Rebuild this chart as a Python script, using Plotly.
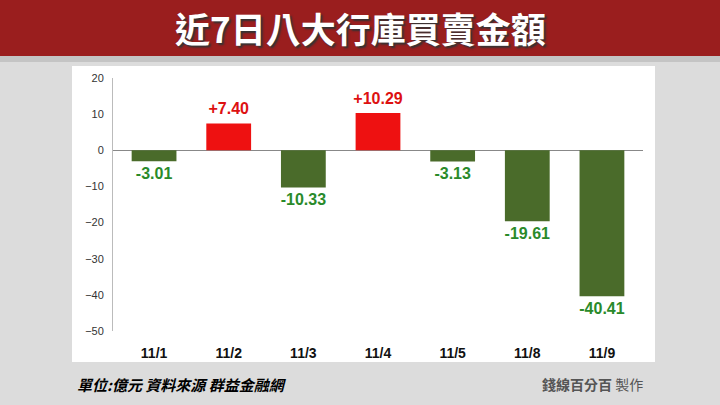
import plotly.graph_objects as go

categories = ["11/1", "11/2", "11/3", "11/4", "11/5", "11/8", "11/9"]
values = [-3.01, 7.40, -10.33, 10.29, -3.13, -19.61, -40.41]
labels = ["-3.01", "+7.40", "-10.33", "+10.29", "-3.13", "-19.61", "-40.41"]
colors = ["#4a6b2a" if v < 0 else "#ee1111" for v in values]
tcolors = ["#2a8a2a" if v < 0 else "#dd1111" for v in values]

W, H = 720, 405
L, R, T, B = 113, 643, 78, 331
def px(x): return (x - L) / (R - L)
def py(y): return (B - y) / (B - T)

fig = go.Figure()
fig.add_trace(go.Bar(x=categories, y=values, marker_color=colors, width=0.6,
                     marker_line_width=0, hoverinfo="skip"))
fig.add_trace(go.Scatter(
    x=categories, y=[v - 3.7 if v < 0 else v + 3.7 for v in values],
    mode="text", text=["<b>%s</b>" % s for s in labels],
    textfont=dict(color=tcolors, size=16, family="Liberation Sans"),
    hoverinfo="skip", cliponaxis=False))

shapes = [
    dict(type="rect", xref="paper", yref="paper", x0=px(0), x1=px(W), y0=py(56), y1=py(0),
         fillcolor="#9a1e1e", line_width=0, layer="below"),
    dict(type="rect", xref="paper", yref="paper", x0=px(0), x1=px(W), y0=py(62), y1=py(56),
         fillcolor="#c4c4c4", line_width=0, layer="below"),
    dict(type="rect", xref="paper", yref="paper", x0=px(72), x1=px(655), y0=py(362), y1=py(66),
         fillcolor="white", line_width=0, layer="below"),
]

fig.update_layout(
    width=W, height=H, showlegend=False,
    paper_bgcolor="#dcdcdc", plot_bgcolor="rgba(0,0,0,0)",
    margin=dict(l=L, r=W - R, t=T, b=H - B),
    shapes=shapes,
    xaxis=dict(showgrid=False, showline=False, ticks="", range=[-0.55, 6.55],
               tickfont=dict(size=14, color="#111", family="Liberation Sans"),
               tickvals=categories, ticktext=["<b>%s</b>" % c for c in categories],
               ticklabelstandoff=12),
    yaxis=dict(range=[-50, 20], dtick=10, showgrid=False, zeroline=True,
               zerolinecolor="#888", zerolinewidth=1,
               tickfont=dict(size=11, color="#333", family="Liberation Sans"),
               showline=True, linecolor="#bbb", ticks="", ticklabelstandoff=6),
    annotations=[
        dict(text="<b>近7日八大行庫買賣金額</b>", xref="paper", yref="paper", x=px(360), y=py(27),
             yanchor="middle", showarrow=False,
             font=dict(size=35, color="white", family="Noto Sans CJK TC",
                       shadow="2px 2px 2px #333")),
        dict(text="<b><i>單位:億元 資料來源 群益金融網</i></b>", xref="paper", yref="paper",
             x=px(75), y=py(384), xanchor="left", yanchor="middle", showarrow=False,
             font=dict(size=15, color="black", family="Noto Sans CJK TC")),
        dict(text="<b>錢線百分百</b> 製作", xref="paper", yref="paper",
             x=px(645), y=py(384), xanchor="right", yanchor="middle", showarrow=False,
             font=dict(size=14, color="#555", family="Noto Sans CJK TC")),
    ],
)
fig.write_html("out.html", post_script="document.body.style.margin='0';",
               config={"displayModeBar": False})
